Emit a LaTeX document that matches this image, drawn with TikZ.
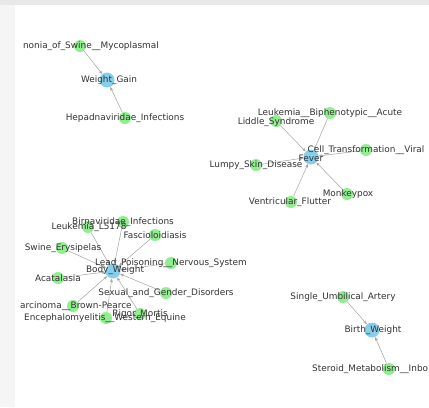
\documentclass[tikz,border=0pt]{standalone}
\usepackage{fontspec}
\setmainfont{DejaVu Sans}
\definecolor{hubblue}{RGB}{135,206,235}
\definecolor{leafgreen}{RGB}{144,238,144}
\definecolor{edgegray}{RGB}{165,165,165}
\usepackage{tikz}
\usetikzlibrary{arrows.meta,positioning,backgrounds}

\begin{document}
\begin{tikzpicture}[x=0.03cm, y=-0.03cm,
    hub/.style={circle, fill=hubblue, inner sep=0pt, minimum size=0.45cm},
    leaf/.style={circle, fill=leafgreen, inner sep=0pt, minimum size=0.36cm},
    lbl/.style={font=\fontsize{7.6}{9}\selectfont, text=black!80, inner sep=0pt},
    link/.style={draw=edgegray, line width=0.45pt, -{Stealth[length=3.2pt,width=2.6pt]}}]
  \useasboundingbox (0,0) rectangle (429,407);
  % photo edge behind the panel
  \fill[black!4] (0,0) rectangle (15,407);
  \fill[black!9] (0,0) rectangle (429,5);

  % Weight_Gain
  \node[hub]  (wg) at (107,80) {};
  \node[leaf] (pn) at (80,46) {};
  \node[leaf] (hp) at (125,118) {};
  % Fever
  \node[hub]  (fv)  at (311,157) {};
  \node[leaf] (lb)  at (330,113) {};
  \node[leaf] (ls)  at (276,121) {};
  \node[leaf] (ct)  at (366,150) {};
  \node[leaf] (lsd) at (256,165) {};
  \node[leaf] (mp)  at (347,194) {};
  \node[leaf] (vf)  at (291,202) {};
  % Body_Weight
  \node[hub]  (bw) at (113,271) {};
  \node[leaf] (bi) at (123,222) {};
  \node[leaf] (ll) at (88,227) {};
  \node[leaf] (fa) at (155,235) {};
  \node[leaf] (se) at (62,248) {};
  \node[leaf] (lp) at (171,263) {};
  \node[leaf] (ac) at (58,278) {};
  \node[leaf] (sg) at (166,293) {};
  \node[leaf] (cb) at (73,306) {};
  \node[leaf] (rm) at (140,314) {};
  \node[leaf] (en) at (106,318) {};
  % Birth_Weight
  \node[hub]  (bh) at (372,330) {};
  \node[leaf] (su) at (343,297) {};
  \node[leaf] (sm) at (389,369) {};

  \begin{scope}[on background layer]
    \foreach \src/\dst in {pn/wg, hp/wg,
        lb/fv, ls/fv, ct/fv, lsd/fv, mp/fv, vf/fv,
        bi/bw, ll/bw, fa/bw, se/bw, lp/bw, ac/bw, sg/bw, cb/bw, rm/bw, en/bw,
        su/bh, sm/bh}
      \draw[link] (\src) -- (\dst);
  \end{scope}

  % labels
  \node[lbl, anchor=east] (pn-t) at (159,46) {nonia\_of\_Swine\_\_Mycoplasmal};
  \node[lbl] (wg-t) at (109,80) {Weight\_Gain};
  \node[lbl] (hp-t) at (125,118) {Hepadnaviridae\_Infections};

  \node[lbl] (lb-t)  at (330,113) {Leukemia\_\_Biphenotypic\_\_Acute};
  \node[lbl] (ls-t)  at (276,122) {Liddle\_Syndrome};
  \node[lbl] (ct-t)  at (366,150) {Cell\_Transformation\_\_Viral};
  \node[lbl] (fv-t)  at (311,158) {Fever};
  \node[lbl] (lsd-t) at (256,165) {Lumpy\_Skin\_Disease};
  \node[lbl] (mp-t)  at (348,194) {Monkeypox};
  \node[lbl] (vf-t)  at (290,202) {Ventricular\_Flutter};

  \node[lbl] (bi-t) at (123,222) {Birnaviridae\_Infections};
  \node[lbl] (ll-t) at (89,227) {Leukemia\_L5178};
  \node[lbl] (fa-t) at (155,235) {Fascioloidiasis};
  \node[lbl] (se-t) at (63,248) {Swine\_Erysipelas};
  \node[lbl] (lp-t) at (171,263) {Lead\_Poisoning\_\_Nervous\_System};
  \node[lbl] (bw-t) at (115,270) {Body\_Weight};
  \node[lbl] (ac-t) at (58,278) {Acatalasia};
  \node[lbl] (sg-t) at (166,293) {Sexual\_and\_Gender\_Disorders};
  \node[lbl, anchor=west] (cb-t) at (20,306) {arcinoma\_\_Brown-Pearce};
  \node[lbl] (rm-t) at (140,314) {Rigor\_Mortis};
  \node[lbl] (en-t) at (105,318) {Encephalomyelitis\_\_Western\_Equine};

  \node[lbl] (su-t) at (343,297) {Single\_Umbilical\_Artery};
  \node[lbl] (bh-t) at (373,330) {Birth\_Weight};
  \node[lbl, anchor=west] (sm-t) at (312,369) {Steroid\_Metabolism\_\_Inbo};
\end{tikzpicture}
\end{document}
